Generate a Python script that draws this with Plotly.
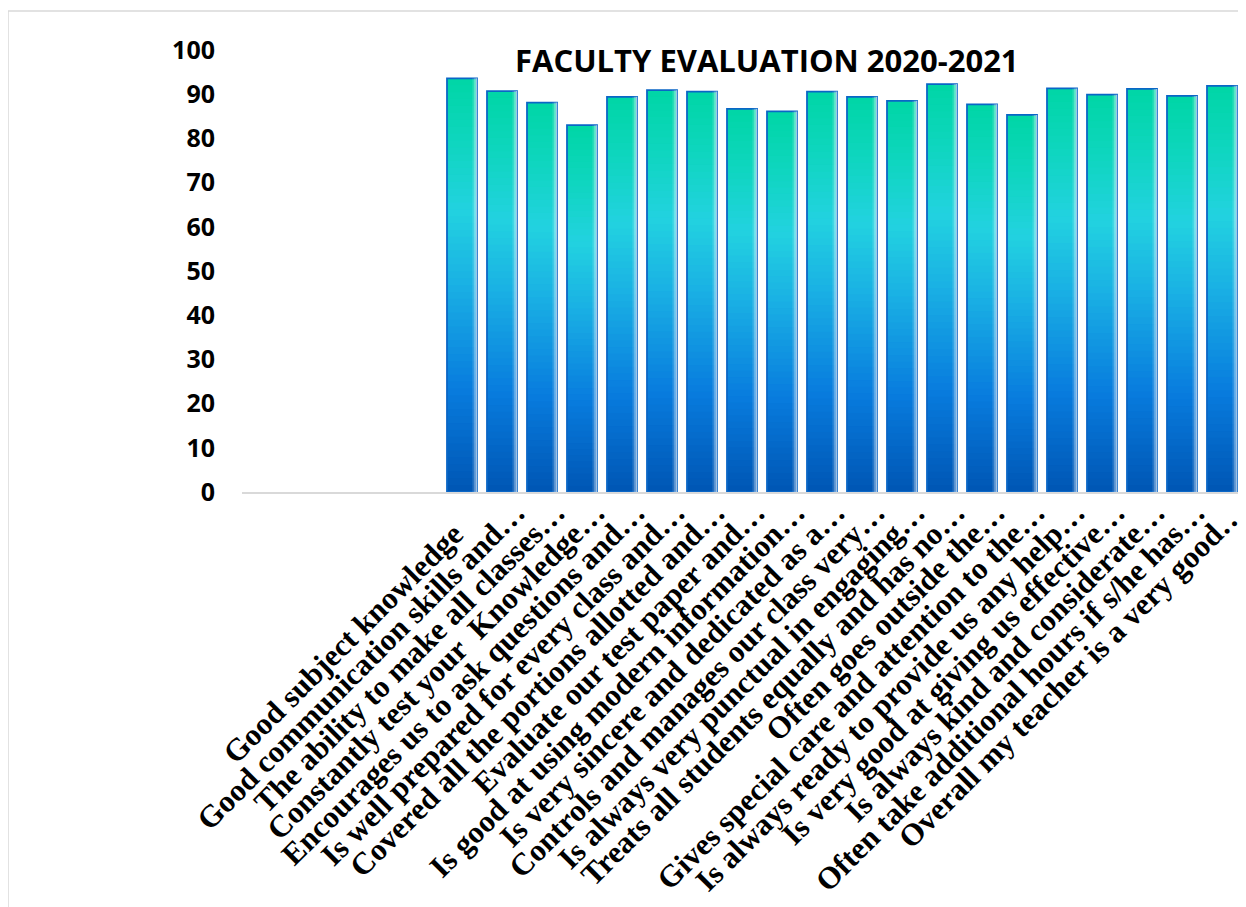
import plotly.graph_objects as go

# ---- data ----
blank_slots = ["", " ", "  ", "   ", "    "]
categories = [
    "Good subject knowledge\u00a0\u00a0\u00a0\u00a0",
    "Good communication skills and…",
    "The ability to make all classes…",
    "Constantly test your  Knowledge…",
    "Encourages us to ask questions and…",
    "Is well prepared for every class and…",
    "Covered all the portions allotted and…",
    "Evaluate our test paper and…",
    "Is good at using modern information…",
    "Is very sincere and dedicated as a…",
    "Controls and manages our class very…",
    "Is always very punctual in engaging…",
    "Treats all students equally and has no…",
    "Often goes outside the…",
    "Gives special care and attention to the…",
    "Is always ready to provide us any help…",
    "Is very good at giving us effective…",
    "Is always kind and considerate…",
    "Often take additional hours if s/he has…",
    "Overall my teacher is a very good…",
]
scores = [93.6, 90.7, 88.1, 83.0, 89.4, 90.9, 90.6, 86.7, 86.1, 90.6,
          89.4, 88.5, 92.3, 87.7, 85.3, 91.3, 89.9, 91.2, 89.6, 91.9]
y_ticks = [0, 10, 20, 30, 40, 50, 60, 70, 80, 90, 100]
title_text = "FACULTY EVALUATION 2020-2021"

# ---- gradient helper ----
stops = [(0.0, (0, 86, 180)), (0.25, (8, 124, 222)), (0.5, (26, 176, 228)),
         (0.68, (34, 210, 224)), (0.85, (14, 214, 190)), (1.0, (0, 214, 166))]


def grad(t):
    for (t0, c0), (t1, c1) in zip(stops[:-1], stops[1:]):
        if t <= t1:
            f = (t - t0) / (t1 - t0)
            return "rgb(%d,%d,%d)" % tuple(round(a + (b - a) * f) for a, b in zip(c0, c1))
    return "rgb(%d,%d,%d)" % stops[-1][1]


fig = go.Figure()
N = 60
for k in range(N):
    bases = [v * k / N for v in scores]
    heights = [min(v * 2.0 / N, v - b) for v, b in zip(scores, bases)]
    fig.add_trace(go.Bar(
        x=categories,
        y=heights,
        base=bases,
        width=0.75,
        marker=dict(color=grad((k + 0.5) / N), line=dict(width=0)),
        hoverinfo="skip", showlegend=False,
    ))

# outline
fig.add_trace(go.Bar(
    x=categories, y=scores, width=0.75,
    marker=dict(color="rgba(0,0,0,0)", line=dict(color="#0a66c6", width=1.8)),
    hovertemplate="%{x}: %{y}<extra></extra>", showlegend=False,
))
# right-edge highlight strips
for off, wd, alpha in [(0.26, 0.04, 0.15), (0.30, 0.04, 0.35), (0.34, 0.04, 0.6)]:
    fig.add_trace(go.Bar(
        x=categories, y=scores, width=wd, offset=off,
        marker=dict(color="rgba(255,255,255,%.2f)" % alpha, line=dict(width=0)),
        hoverinfo="skip", showlegend=False,
    ))

# page has an 8px body offset; figure sized to fit
OFF = 8
W, H = 1238, 899
ml, mr, mt, mb = 234, 4, 42, 415
pw, ph = W - ml - mr, H - mt - mb


def px_x(page_x):
    return (page_x - OFF - ml) / pw


def px_y(page_y):
    return (H - mb - (page_y - OFF)) / ph


fig.update_layout(
    width=W, height=H,
    margin=dict(l=ml, r=mr, t=mt, b=mb, autoexpand=False),
    barmode="overlay",
    plot_bgcolor="white", paper_bgcolor="white",
    xaxis=dict(
        type="category",
        categoryorder="array",
        categoryarray=blank_slots + categories,
        range=[-0.5, len(blank_slots) + len(categories) - 0.5],
        tickangle=-45,
        tickfont=dict(family="Liberation Serif", size=31, color="black", weight="bold"),
        ticklabelstandoff=-12,
        ticklabelshift=14,
        showline=True, linecolor="#d9d9d9", linewidth=1.5,
        showgrid=False, ticks="", zeroline=False,
    ),
    yaxis=dict(
        range=[0, 100],
        tickvals=y_ticks,
        tickfont=dict(family="Open Sans", size=25, color="black", weight="bold"),
        showgrid=False, zeroline=False, showline=False,
        ticklabelstandoff=26,
    ),
    annotations=[dict(
        text="<b>%s</b>" % title_text,
        xref="paper", yref="paper",
        x=px_x(767), y=px_y(60),
        xanchor="center", yanchor="middle", showarrow=False,
        font=dict(family="Open Sans", size=31, color="black"),
    )],
    shapes=[dict(
        type="rect", xref="paper", yref="paper",
        x0=px_x(8), x1=px_x(1270),
        y0=px_y(930), y1=px_y(11),
        line=dict(color="#d9d9d9", width=1.5), fillcolor="rgba(0,0,0,0)", layer="below",
    )],
)

fig.write_html("out.html")
